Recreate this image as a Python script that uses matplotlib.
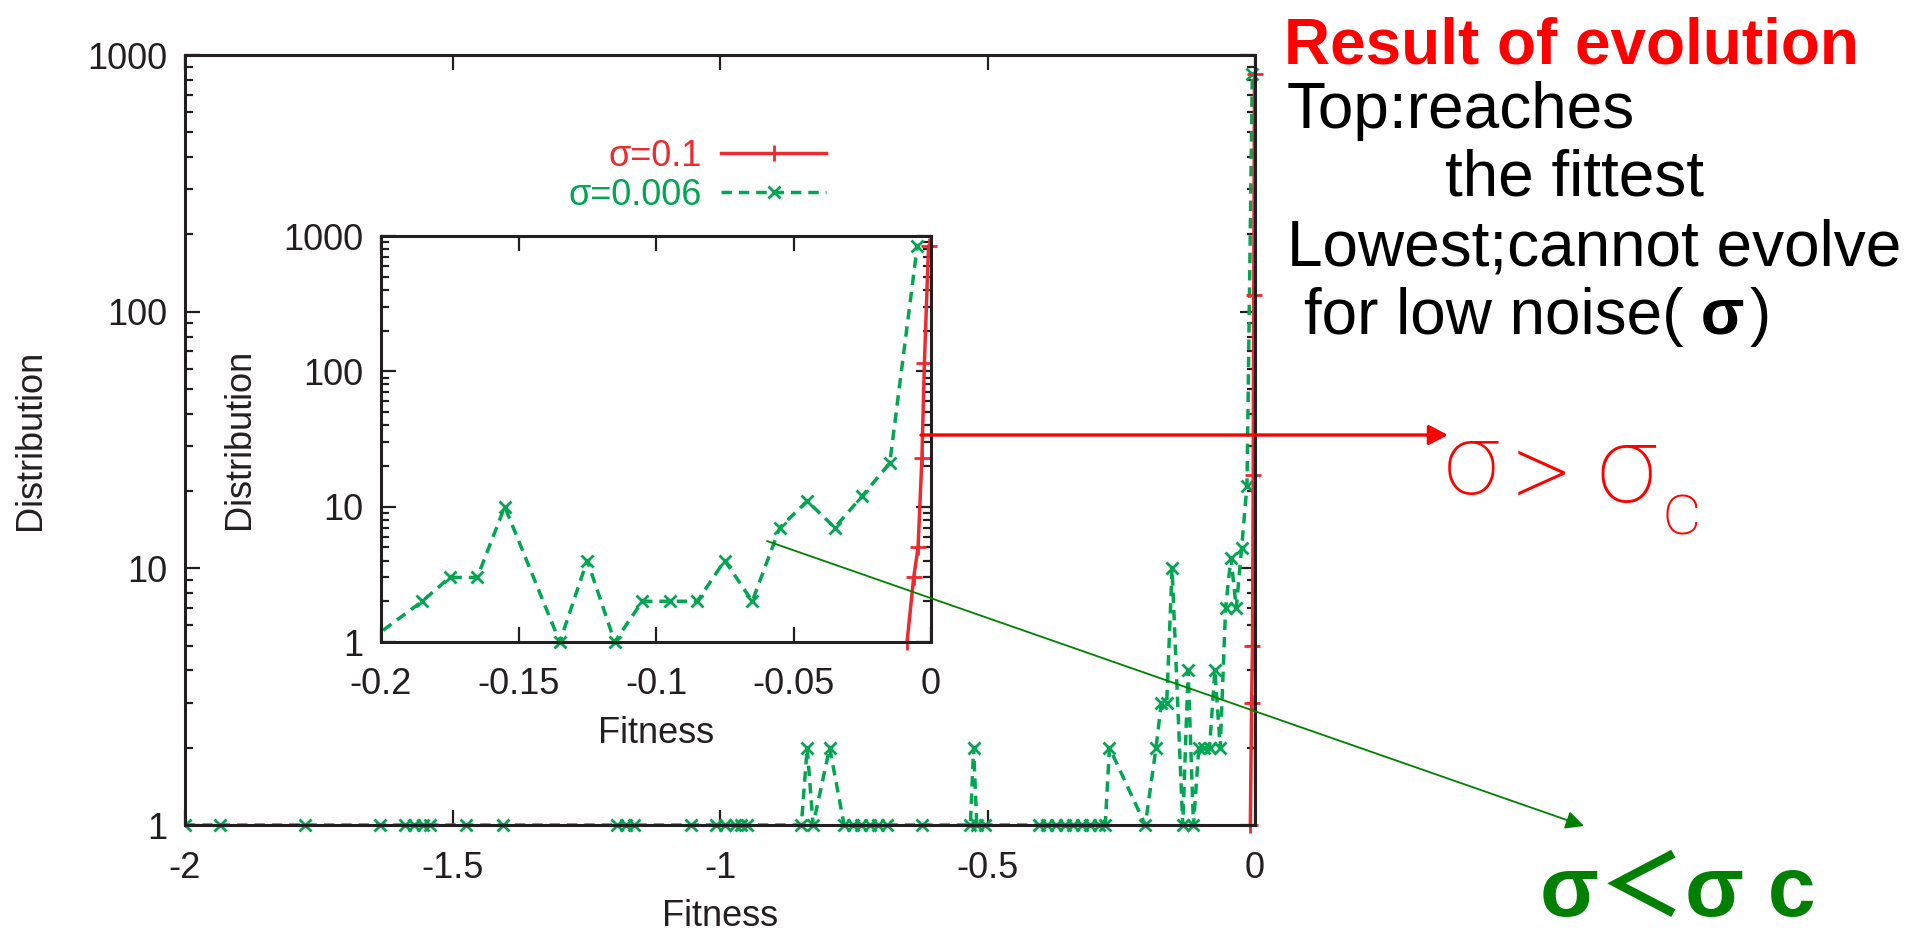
import matplotlib
matplotlib.use("Agg")
import matplotlib.pyplot as plt
from matplotlib.patches import Rectangle, FancyArrowPatch
from matplotlib.ticker import NullFormatter, NullLocator

# Fitness distribution, sigma = 0.006 (green, dashed)
fitness_low = [-2.000, -1.935, -1.776, -1.635, -1.589, -1.572, -1.556, -1.542,
               -1.474, -1.406, -1.193, -1.176, -1.160, -1.055, -1.008, -0.990,
               -0.972, -0.960, -0.950, -0.848, -0.837, -0.826, -0.795, -0.768,
               -0.752, -0.736, -0.720, -0.704, -0.688, -0.622, -0.532, -0.526,
               -0.520, -0.505, -0.404, -0.388, -0.372, -0.356, -0.340, -0.324,
               -0.308, -0.292, -0.280, -0.272, -0.205, -0.185, -0.175, -0.165,
               -0.155, -0.135, -0.125, -0.115, -0.105, -0.095, -0.085, -0.075,
               -0.065, -0.055, -0.045, -0.035, -0.025, -0.015, -0.005]
count_low = [1, 1, 1, 1, 1, 1, 1, 1,
             1, 1, 1, 1, 1, 1, 1, 1,
             1, 1, 1, 1, 2, 1, 2, 1,
             1, 1, 1, 1, 1, 1, 1, 2,
             1, 1, 1, 1, 1, 1, 1, 1,
             1, 1, 1, 2, 1, 2, 3, 3,
             10, 1, 4, 1, 2, 2, 2, 4,
             2, 7, 11, 7, 12, 21, 840]

# Fitness distribution, sigma = 0.1 (red, solid)
fitness_high = [-0.0087, -0.0063, -0.0047, -0.0033, -0.0024, -0.0009]
count_high = [1, 3, 5, 23, 116, 840]

main_xticks = [-2, -1.5, -1, -0.5, 0]
main_xticklabels = ["-2", "-1.5", "-1", "-0.5", "0"]
inset_xticks = [-0.2, -0.15, -0.1, -0.05, 0]
inset_xticklabels = ["-0.2", "-0.15", "-0.1", "-0.05", "0"]
yticks = [1, 10, 100, 1000]
yticklabels = ["1", "10", "100", "1000"]

W, H = 1926, 938
AX_COLOR = "#231f20"
RED = "#ee2a2e"
GREEN = "#00a651"
GP_FONT = ["Liberation Sans", "DejaVu Sans"]
SLIDE_FONT = ["Liberation Sans", "DejaVu Sans"]
HAND_FONT = ["Roboto", "DejaVu Sans"]
GREEK_BOLD = ["Liberation Sans", "Noto Sans CJK JP"]
GP_SIZE = 26
SLIDE_SIZE = 46

plt.rcParams["font.family"] = GP_FONT
plt.rcParams["axes.unicode_minus"] = False

fig = plt.figure(figsize=(W / 100, H / 100), dpi=100)
fig.patch.set_facecolor("white")


def px_box(left, top, right, bottom):
    return [left / W, 1 - bottom / H, (right - left) / W, (bottom - top) / H]


def fx(x):
    return x / W


def fy(y):
    return 1 - y / H


def style_axes(ax, xticks, xlabels, xlim, xpad):
    ax.set_yscale("log")
    ax.set_xlim(*xlim)
    ax.set_ylim(1, 1000)
    ax.set_xticks(xticks, xlabels)
    ax.set_yticks(yticks, yticklabels)
    ax.yaxis.set_minor_formatter(NullFormatter())
    ax.xaxis.set_minor_locator(NullLocator())
    for s in ax.spines.values():
        s.set_linewidth(2.2)
        s.set_color(AX_COLOR)
    ax.tick_params(which="both", direction="in", top=True, right=True,
                   color=AX_COLOR, labelcolor=AX_COLOR, labelsize=GP_SIZE)
    ax.tick_params(which="major", length=11, width=1.6)
    ax.tick_params(which="minor", length=5.5, width=1.6)
    ax.tick_params(axis="y", which="major", pad=13)
    ax.tick_params(axis="x", which="major", pad=xpad)


def draw_series(ax):
    clip = Rectangle((0, -0.03), 1.02, 1.06, transform=ax.transAxes)
    g, = ax.plot(fitness_low, count_low, color=GREEN, lw=2.5, ls=(0, (3, 2)),
                 marker="x", ms=9, mew=2.0, label="σ=0.006")
    r, = ax.plot(fitness_high, count_high, color=RED, lw=2.5,
                 marker="+", ms=12, mew=2.0, label="σ=0.1")
    for ln in (g, r):
        ln.set_clip_path(clip)
    return r, g


# Main panel
ax = fig.add_axes(px_box(185, 55, 1255, 825))
style_axes(ax, main_xticks, main_xticklabels, (-2, 0), 19)
line_red, line_green = draw_series(ax)
ax.set_xlabel("Fitness", fontsize=GP_SIZE, color=AX_COLOR, va="center")
ax.set_ylabel("Distribution", fontsize=GP_SIZE, color=AX_COLOR, va="center")
ax.xaxis.set_label_coords(0.5, (825 - 916) / 770)
ax.yaxis.set_label_coords((31 - 185) / 1070, 0.5)

ax.legend(handles=[line_red, line_green], loc="upper right",
          bbox_to_anchor=(fx(826), fy(139)), bbox_transform=fig.transFigure,
          frameon=False, fontsize=GP_SIZE, markerfirst=False, handlelength=2.9,
          handletextpad=0.55, labelspacing=0.1, borderpad=0, borderaxespad=0,
          labelcolor="linecolor", numpoints=1)

# Inset zoomed on the fittest region
ax_in = fig.add_axes(px_box(381, 236, 931, 642))
ax_in.set_facecolor("white")
style_axes(ax_in, inset_xticks, inset_xticklabels, (-0.2, 0), 18)
draw_series(ax_in)
ax_in.set_xlabel("Fitness", fontsize=GP_SIZE, color=AX_COLOR, va="center")
ax_in.set_ylabel("Distribution", fontsize=GP_SIZE, color=AX_COLOR, va="center")
ax_in.xaxis.set_label_coords(0.5, (642 - 733) / 406)
ax_in.yaxis.set_label_coords((239 - 381) / 550, 0.5)

# Commentary on the right
fig.text(fx(1284), fy(63), "Result of evolution", color="#ff0000",
         fontsize=SLIDE_SIZE, fontweight="bold", family=SLIDE_FONT, va="baseline")
fig.text(fx(1287), fy(128), "Top:reaches", color="black", fontsize=SLIDE_SIZE,
         family=SLIDE_FONT, va="baseline")
fig.text(fx(1445), fy(196), "the fittest", color="black", fontsize=SLIDE_SIZE,
         family=SLIDE_FONT, va="baseline")
fig.text(fx(1287), fy(265), "Lowest;cannot evolve", color="black",
         fontsize=SLIDE_SIZE, family=SLIDE_FONT, va="baseline")
t1 = fig.text(fx(1304), fy(334), "for low noise(", color="black",
              fontsize=SLIDE_SIZE, family=SLIDE_FONT, va="baseline")
t2 = ax.annotate(" σ", xy=(1, 0), xycoords=t1, va="bottom", ha="left",
                 color="black", fontsize=SLIDE_SIZE, fontweight="bold",
                 family=SLIDE_FONT, annotation_clip=False)
ax.annotate(")", xy=(1, 0), xycoords=t2, xytext=(5, 0), textcoords="offset pixels",
            va="bottom", ha="left", color="black", fontsize=SLIDE_SIZE,
            family=SLIDE_FONT, annotation_clip=False)

# Arrows pointing from the curves to the two regimes
red_arrow = FancyArrowPatch((fx(921), fy(435)), (fx(1448), fy(435)),
                            transform=fig.transFigure, color="#ff0000", lw=2.4,
                            arrowstyle="-|>,head_length=11.5,head_width=6",
                            mutation_scale=1, shrinkA=0, shrinkB=0, zorder=10)
fig.add_artist(red_arrow)
green_arrow = FancyArrowPatch((fx(767), fy(541)), (fx(1584), fy(826)),
                              transform=fig.transFigure, color="#008000", lw=1.3,
                              arrowstyle="-|>,head_length=11,head_width=5.5",
                              mutation_scale=1, shrinkA=0, shrinkB=0, zorder=10)
fig.add_artist(green_arrow)

# Hand-written "sigma > sigma_c"
hand = dict(color="#ff0000", family=HAND_FONT, fontweight="light", va="baseline")
fig.text(fx(1444), fy(494), "σ", fontsize=72, **hand)
fig.text(fx(1512), fy(510), ">", fontsize=82, **hand)
fig.text(fx(1596), fy(502), "σ", fontsize=78, **hand)
fig.text(fx(1662), fy(534), "c", fontsize=54, **hand)

# Bold "sigma < sigma c"
fig.text(fx(1540), fy(916), "σ＜σ c", fontsize=62, color="#008000",
         fontweight="bold", family=GREEK_BOLD, va="baseline")

fig.savefig("out.png", dpi=100, facecolor="white")
